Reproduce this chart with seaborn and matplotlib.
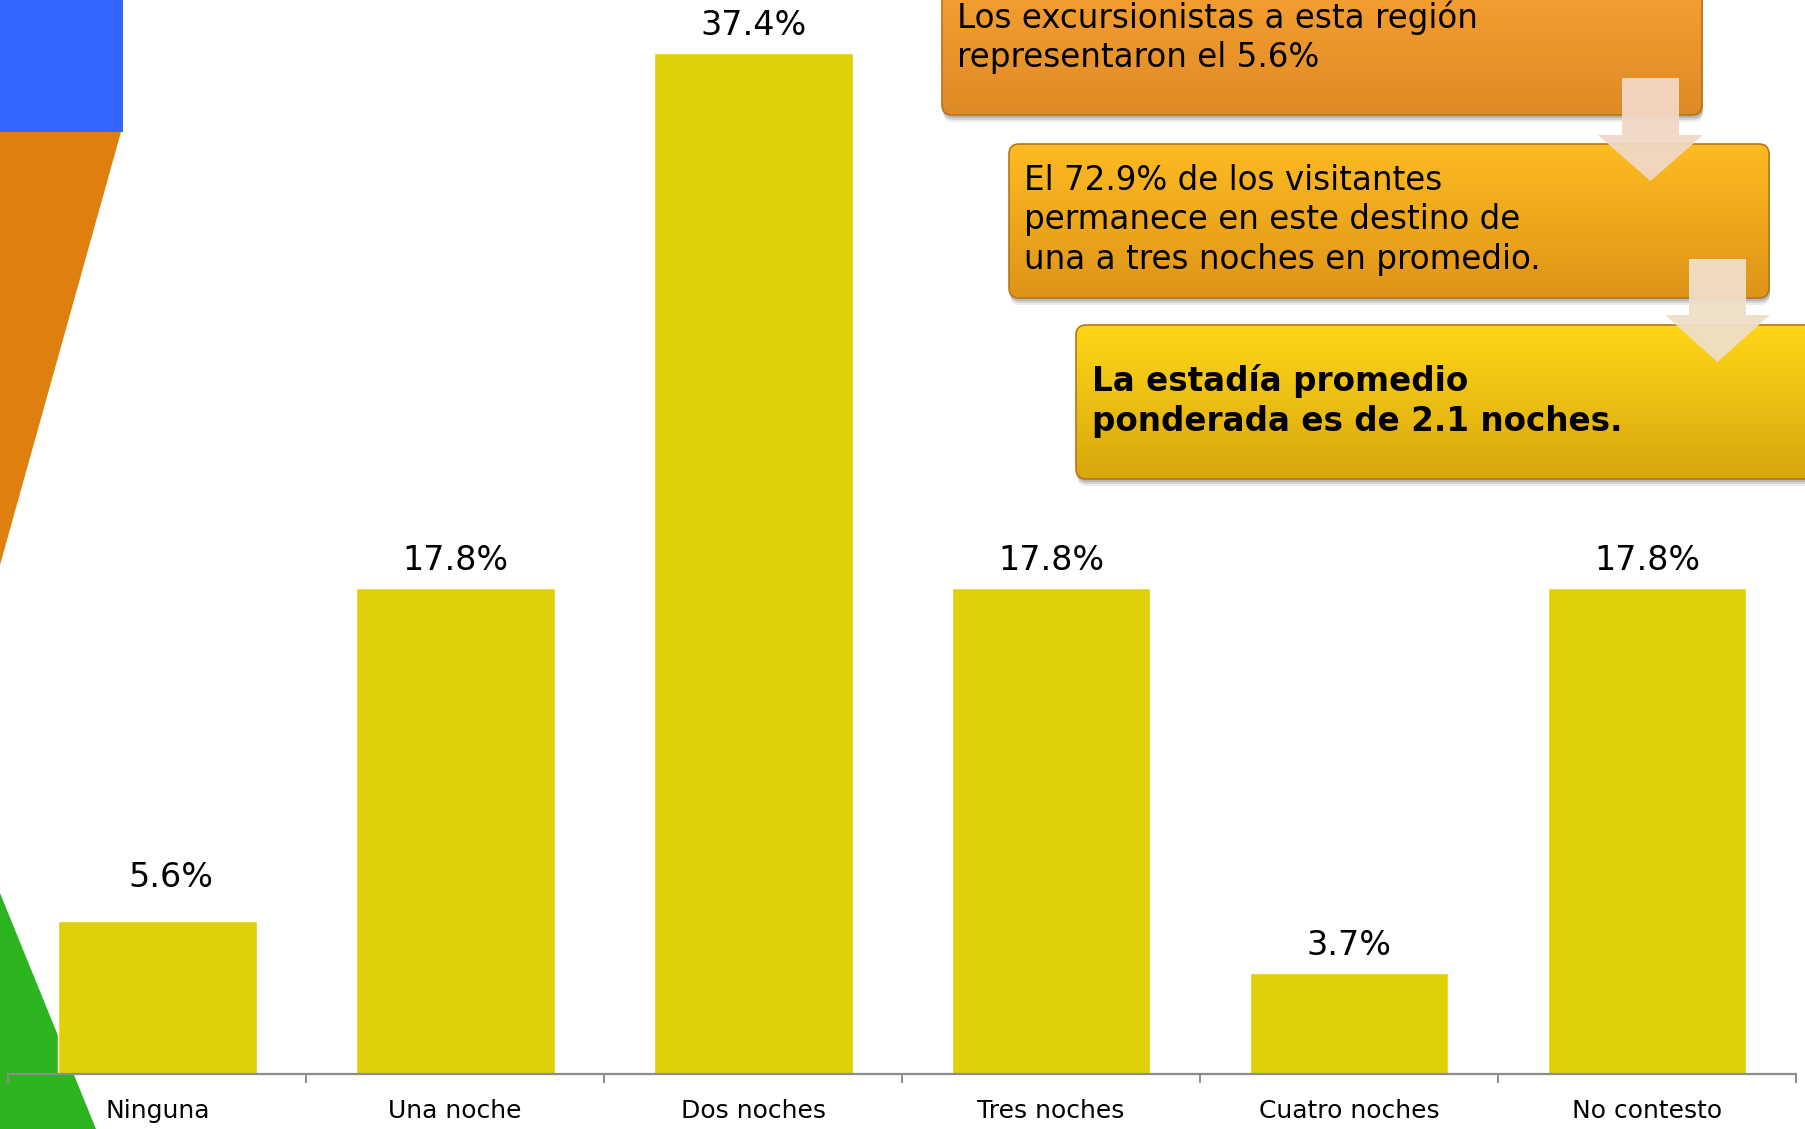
import numpy as np
import matplotlib
matplotlib.use('Agg')
import matplotlib.pyplot as plt
from matplotlib.patches import FancyBboxPatch, Polygon, Rectangle
import seaborn as sns

# data
categories = ['Ninguna', 'Una noche', 'Dos noches', 'Tres noches', 'Cuatro noches', 'No contesto']
values = [5.6, 17.8, 37.4, 17.8, 3.7, 17.8]
value_labels = ['5.6%', '17.8%', '37.4%', '17.8%', '3.7%', '17.8%']

box_texts = [
    'Los excursionistas a esta región\nrepresentaron el 5.6%',
    'El 72.9% de los visitantes\npermanece en este destino de\nuna a tres noches en promedio.',
    'La estadía promedio\nponderada es de 2.1 noches.',
]

bar_color = '#e0d008'
W, H = 1806, 1129

sns.set_theme(style='white')
plt.rcParams['font.family'] = ['DejaVu Sans']

fig = plt.figure(figsize=(W / 100, H / 100), dpi=100)
fig.patch.set_facecolor('white')

# background layer in pixel coordinates (y down)
bg = fig.add_axes([0, 0, 1, 1], zorder=0)
bg.set_axis_off()

# left side decoration
bg.add_patch(Rectangle((0, 0), 123, 132, color='#3366ff', lw=0))
bg.add_patch(Polygon([(0, 132), (121, 132), (0, 565)], closed=True, color='#df800e', lw=0))
bg.add_patch(Polygon([(0, 893), (96, 1129), (0, 1129)], closed=True, color='#2db520', lw=0))


def gradient_box(x0, y0, x1, y1, top, bottom):
    # soft drop shadow
    for off, a in [(7, 0.12), (5, 0.18), (3, 0.25)]:
        bg.add_patch(FancyBboxPatch((x0 + 1, y0 + off), x1 - x0, y1 - y0,
                                    boxstyle='round,pad=0,rounding_size=10',
                                    fc='#666666', ec='none', alpha=a))
    box = FancyBboxPatch((x0, y0), x1 - x0, y1 - y0,
                         boxstyle='round,pad=0,rounding_size=10',
                         fc='none', ec='#b5761a', lw=1.2)
    bg.add_patch(box)
    c_top = np.array(matplotlib.colors.to_rgb(top))
    c_bot = np.array(matplotlib.colors.to_rgb(bottom))
    t = np.linspace(0, 1, 256)[:, None, None]
    grad = c_top * (1 - t) + c_bot * t
    im = bg.imshow(grad, extent=(x0, x1, y1, y0), aspect='auto', zorder=1)
    im.set_clip_path(box)
    box.set_zorder(2)


gradient_box(942, -30, 1702, 115, '#f9a232', '#de8a26')
gradient_box(1009, 144, 1769, 298, '#fdbb22', '#de9418')
gradient_box(1076, 325, 1840, 479, '#ffd718', '#d8a60e')

# text in boxes
line_sets = [
    (957, [18, 58], box_texts[0], 'normal', 23.5),
    (1024, [180, 220, 260], box_texts[1], 'normal', 23.5),
    (1092, [381, 422], box_texts[2], 'bold', 23.5),
]
for x, ys, txt, weight, size in line_sets:
    for y, line in zip(ys, txt.split('\n')):
        bg.text(x, y, line, ha='left', va='center', fontsize=size,
                fontweight=weight, color='black', zorder=3)

# arrows
for sx0, sx1, sy0, hx0, hx1, hy, tip, col in [(1622, 1679, 78, 1598, 1703, 135, 181, '#f0d8c4'),
                                              (1689, 1746, 259, 1665, 1770, 315, 362, '#efdfc8')]:
    bg.add_patch(Polygon([(sx0, sy0), (sx1, sy0), (sx1, hy), (hx1, hy),
                          ((hx0 + hx1) / 2, tip), (hx0, hy), (sx0, hy)],
                         closed=True, fc=col, ec='none', alpha=0.95, zorder=4))

bg.set_xlim(0, W)
bg.set_ylim(H, 0)

# main bar chart
px_per_pct = 27.3
ax_bottom = 1074
ax = fig.add_axes([8.3 / W, (H - ax_bottom) / H, (1796 - 8.3) / W, ax_bottom / H], zorder=1)
ax.patch.set_alpha(0)
sns.barplot(x=categories, y=values, color=bar_color, saturation=1, width=0.667, ax=ax)
ax.set_xlim(-0.5, len(categories) - 0.5)
ax.set_ylim(0, ax_bottom / px_per_pct)
texts = ax.bar_label(ax.containers[0], labels=value_labels, padding=8, fontsize=24, color='black')
# the first label sits a little higher and to the right in the original
texts[0].xyann = (9.5, 19.5)

for s in ['left', 'top', 'right']:
    ax.spines[s].set_visible(False)
ax.spines['bottom'].set_color('#8c8c8c')
ax.spines['bottom'].set_linewidth(1.6)
ax.set_yticks([])
ax.set_ylabel('')
ax.set_xlabel('')
ax.set_xticks(np.arange(-0.5, len(categories), 1.0), minor=True)
ax.tick_params(axis='x', which='minor', length=6.5, width=1.4, color='#8c8c8c', bottom=True)
ax.tick_params(axis='x', which='major', length=0, pad=18, labelsize=18, labelcolor='black')

fig.savefig('out.png', dpi=100)
